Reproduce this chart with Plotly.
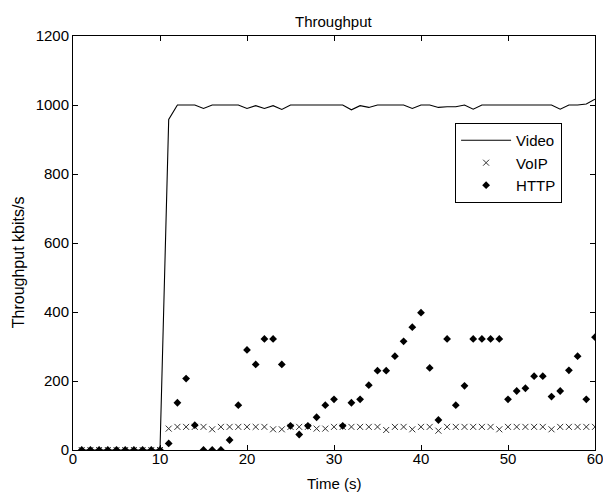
import plotly.graph_objects as go

time_s = list(range(1, 61))

video = [0]*10 + [958, 1000, 1000, 1000, 990, 1000, 1000, 1000, 1000, 990,
                  998, 990, 998, 987, 1000, 1000, 1000, 1000, 1000, 1000,
                  1000, 986, 998, 993, 1000, 1000, 1000, 1000, 990, 1000,
                  1000, 993, 995, 995, 1000, 988, 1000, 1000, 1000, 1000,
                  1000, 1000, 1000, 1000, 1000, 988, 1000, 1000, 1003, 1017]

voip = [0]*10 + [62, 67, 67, 67, 67, 60, 67, 67, 67, 67,
                 67, 67, 60, 60, 67, 67, 67, 62, 62, 67,
                 67, 67, 67, 67, 67, 58, 67, 67, 60, 67,
                 67, 56, 67, 67, 67, 67, 67, 67, 60, 67,
                 67, 67, 67, 67, 60, 67, 67, 67, 67, 67]

http = [0]*10 + [19, 137, 207, 72, 0, 0, 0, 29, 130, 290,
                 248, 322, 322, 248, 70, 45, 70, 95, 130, 147,
                 70, 137, 147, 188, 230, 230, 272, 315, 356, 398,
                 238, 87, 322, 130, 186, 322, 322, 322, 322, 147,
                 171, 179, 214, 214, 155, 171, 231, 272, 147, 327]

x_ticks = [0, 10, 20, 30, 40, 50, 60]
y_ticks = [0, 200, 400, 600, 800, 1000, 1200]

FONT = "Liberation Sans, Arial, sans-serif"

fig = go.Figure()
fig.add_trace(go.Scatter(x=time_s, y=video, mode="lines", name="Video",
                         line=dict(color="black", width=1.1)))
fig.add_trace(go.Scatter(x=time_s, y=voip, mode="markers", name="VoIP",
                         marker=dict(symbol="x-thin-open", size=6, color="#333333",
                                     line=dict(width=1, color="#333333"))))
fig.add_trace(go.Scatter(x=time_s, y=http, mode="markers", name="HTTP",
                         marker=dict(symbol="diamond", size=6, color="black")))

axis_common = dict(showgrid=False, zeroline=False, showline=True, linecolor="black",
                   linewidth=1, mirror="allticks", ticks="inside", ticklen=5,
                   tickcolor="black", ticklabeloverflow="allow",
                   tickfont=dict(family=FONT, size=15, color="black"))

fig.update_layout(
    width=603, height=493,
    margin=dict(l=73, r=8, t=36, b=43, autoexpand=False),
    paper_bgcolor="white", plot_bgcolor="white",
    font=dict(family=FONT, size=15, color="black"),
    xaxis=dict(range=[0, 60], tickvals=x_ticks, ticklabelstandoff=-5, **axis_common),
    yaxis=dict(range=[0, 1200], tickvals=y_ticks, **axis_common),
    legend=dict(x=0.732, y=0.79, xanchor="left", yanchor="top",
                bordercolor="black", borderwidth=1, bgcolor="white",
                font=dict(family=FONT, size=15, color="black"),
                itemwidth=50, tracegroupgap=0),
    showlegend=True,
    annotations=[
        dict(text="Throughput", x=0.5, y=1.036, xref="paper", yref="paper",
             xanchor="center", yanchor="middle", showarrow=False,
             font=dict(family=FONT, size=15, color="black")),
        dict(text="Time (s)", x=0.5, y=-0.082, xref="paper", yref="paper",
             xanchor="center", yanchor="middle", showarrow=False,
             font=dict(family=FONT, size=15, color="black")),
        dict(text="Throughput kbits/s", x=-0.105, y=0.454, xref="paper",
             yref="paper", textangle=-90, showarrow=False,
             xanchor="center", yanchor="middle",
             font=dict(family=FONT, size=16, color="black")),
    ],
)

fig.write_html(
    "out.html",
    config={"displayModeBar": False},
    post_script="document.body.style.margin='0px';document.body.style.overflow='hidden';",
)
